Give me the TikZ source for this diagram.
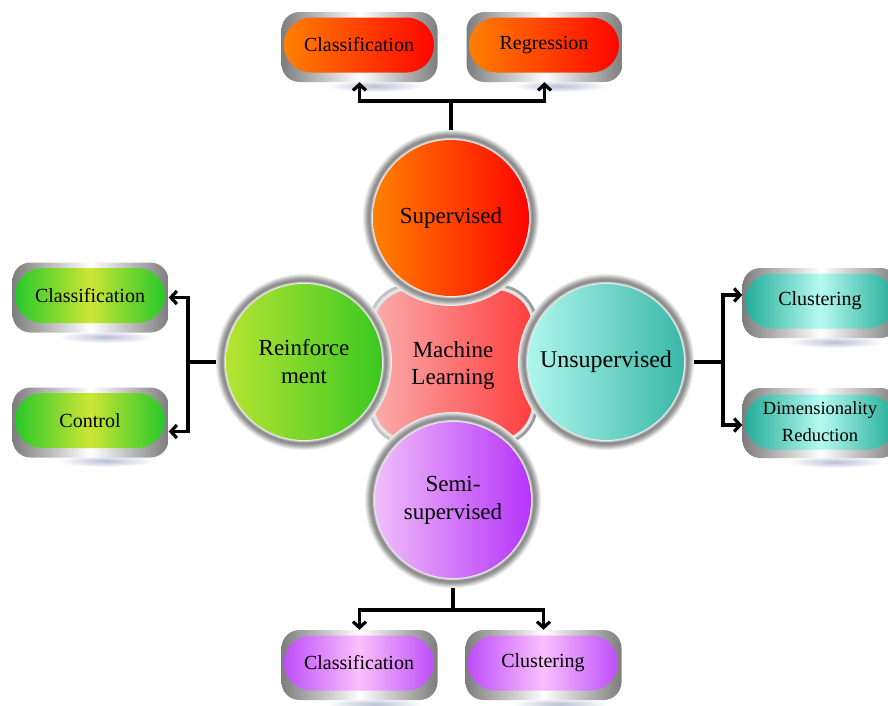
\documentclass[tikz,border=0pt]{standalone}
\usepackage{fontspec}
\setmainfont{Liberation Serif}
\usetikzlibrary{arrows.meta}
\definecolor{rgA}{RGB}{175,175,175}
\definecolor{rgB}{RGB}{120,120,120}
% circle colours
\definecolor{supL}{RGB}{255,128,0}
\definecolor{supR}{RGB}{255,5,0}
\definecolor{reiL}{RGB}{182,228,52}
\definecolor{reiR}{RGB}{58,200,32}
\definecolor{unsL}{RGB}{175,246,236}
\definecolor{unsR}{RGB}{58,184,168}
\definecolor{semL}{RGB}{240,190,250}
\definecolor{semR}{RGB}{182,52,250}
\definecolor{mlL}{RGB}{250,172,172}
\definecolor{mlR}{RGB}{255,62,62}
% box colours
\definecolor{grE}{RGB}{38,200,42}
\definecolor{grM}{RGB}{205,230,52}
\definecolor{tlE}{RGB}{35,172,152}
\definecolor{tlM}{RGB}{182,250,240}
\definecolor{viE}{RGB}{190,78,250}
\definecolor{viM}{RGB}{250,192,252}
\definecolor{shd}{RGB}{185,190,212}
\definecolor{frm}{RGB}{125,125,125}
\tikzset{
  ring/.style={circle, minimum size=176pt, inner sep=0pt, fill=black!8},
  disc/.style={circle, minimum size=156pt, inner sep=0pt, align=center,
    font=\fontsize{23}{28}\selectfont},
  frame/.style={rectangle, rounded corners=18pt, minimum width=156pt,
    minimum height=70pt, inner sep=0pt, left color=frm, right color=frm, middle color=white},
  pill/.style={rectangle, rounded corners=27.5pt, minimum width=150pt,
    minimum height=55pt, inner sep=0pt, align=center, font=\fontsize{20}{24}\selectfont},
  orpill/.style={pill, left color=supL, right color=supR},
  grpill/.style={pill, left color=grE, right color=grE, middle color=grM},
  tlpill/.style={pill, left color=tlE, right color=tlE, middle color=tlM},
  vipill/.style={pill, left color=viE, right color=viE, middle color=viM},
  boxshadow/.style={shading=radial, inner color=shd, outer color=white},
  conn/.style={line width=3.2pt, draw=black},
  arr/.style={conn, -{Straight Barb[length=6pt,width=13pt]}}
}
\newcommand{\metalring}[1]{%
  \foreach \rr/\cc in {87/14, 86/22, 85/30, 84/37, 83/42, 82/46, 81/40, 80/22, 79/8}
    \fill[black!\cc] (#1.center) circle [radius=\rr pt];}
\begin{document}
\begin{tikzpicture}[x=1pt,y=-1pt]
\useasboundingbox (0,0) rectangle (888,705);
\clip (0,0) rectangle (888,705);
\fill[white] (0,0) rectangle (888,705);

% ---------- box shadows ----------
\foreach \cx/\cy in {375/86, 560/86, 106/337, 106/461, 836/342, 836/462, 375/704, 560/704}
  \path[boxshadow] (\cx,\cy) ellipse [x radius=48pt, y radius=6pt];

% ---------- centre shape ----------
\node[rectangle, rounded corners=42pt, minimum width=170pt, minimum height=162pt,
      left color=black!22, right color=black!40] (mlring) at (453,365) {};
\node[rectangle, rounded corners=39pt, minimum width=164pt, minimum height=156pt,
      fill=black!10] (mlring2) at (453,365) {};
\node[rectangle, rounded corners=37pt, minimum width=158pt, minimum height=150pt,
      left color=mlL, right color=mlR, align=center, font=\fontsize{23}{27}\selectfont]
      (ml) at (453,365) {Machine\\Learning};

% ---------- circles ----------
\node[ring] (supring) at (451,218) {};
\metalring{supring}
\node[disc, left color=supL, right color=supR] (sup) at (451,218) {Supervised};

\node[ring] (reiring) at (304,362) {};
\metalring{reiring}
\node[disc, left color=reiL, right color=reiR] (rei) at (304,362) {Reinforce\\ment};

\node[ring] (unsring) at (606,362) {};
\metalring{unsring}
\node[disc, left color=unsL, right color=unsR, font=\fontsize{24}{28}\selectfont] (uns) at (606,362) {Unsupervised};

\node[ring] (semring) at (453,500) {};
\metalring{semring}
\node[disc, left color=semL, right color=semR] (sem) at (453,500) {Semi-\\supervised};

% ---------- boxes ----------
% top
\node[frame] (fcls1) at (359.5,47) {};
\node[orpill] (cls1) at (359,45) {Classification};
\node[frame] (freg) at (544.5,47) {};
\node[orpill] (reg) at (544,45) {Regression};
% left
\node[frame] (fcls2) at (90.5,297.5) {};
\node[grpill] (cls2) at (90,295.5) {Classification};
\node[frame] (fctl) at (90.5,422.5) {};
\node[grpill] (ctl) at (90,420.5) {Control};
% right
\node[frame] (fclu1) at (820.5,303) {};
\node[tlpill] (clu1) at (820,301) {Clustering};
\node[frame] (fdim) at (820.5,423) {};
\node[tlpill, font=\fontsize{18.5}{27}\selectfont] (dim) at (820,422) {Dimensionality\\Reduction};
% bottom
\node[frame] (fcls3) at (359.5,665) {};
\node[vipill] (cls3) at (359,663) {Classification};
\node[frame] (fclu2) at (543.5,665) {};
\node[vipill] (clu2) at (543,663) {Clustering};

% ---------- connectors ----------
\coordinate (tj) at (451,101);
\draw[conn] (supring.north) -- (tj);
\draw[arr] (tj) -| (fcls1.south);
\draw[arr] (tj) -| (freg.south);

\coordinate (lj) at (188,362);
\draw[conn] (reiring.west) -- (lj);
\draw[arr] (lj) |- (fcls2.east);
\draw[arr] (lj) |- ([yshift=-9pt]fctl.east);

\coordinate (rj) at (723,362);
\draw[conn] (unsring.east) -- (rj);
\draw[arr] (rj) |- ([yshift=8pt]fclu1.west);
\draw[arr] (rj) |- ([yshift=-2pt]fdim.west);

\coordinate (bj) at (453,610);
\draw[conn] (semring.south) -- (bj);
\draw[arr] (bj) -| (fcls3.north);
\draw[arr] (bj) -| (fclu2.north);
\end{tikzpicture}
\end{document}
